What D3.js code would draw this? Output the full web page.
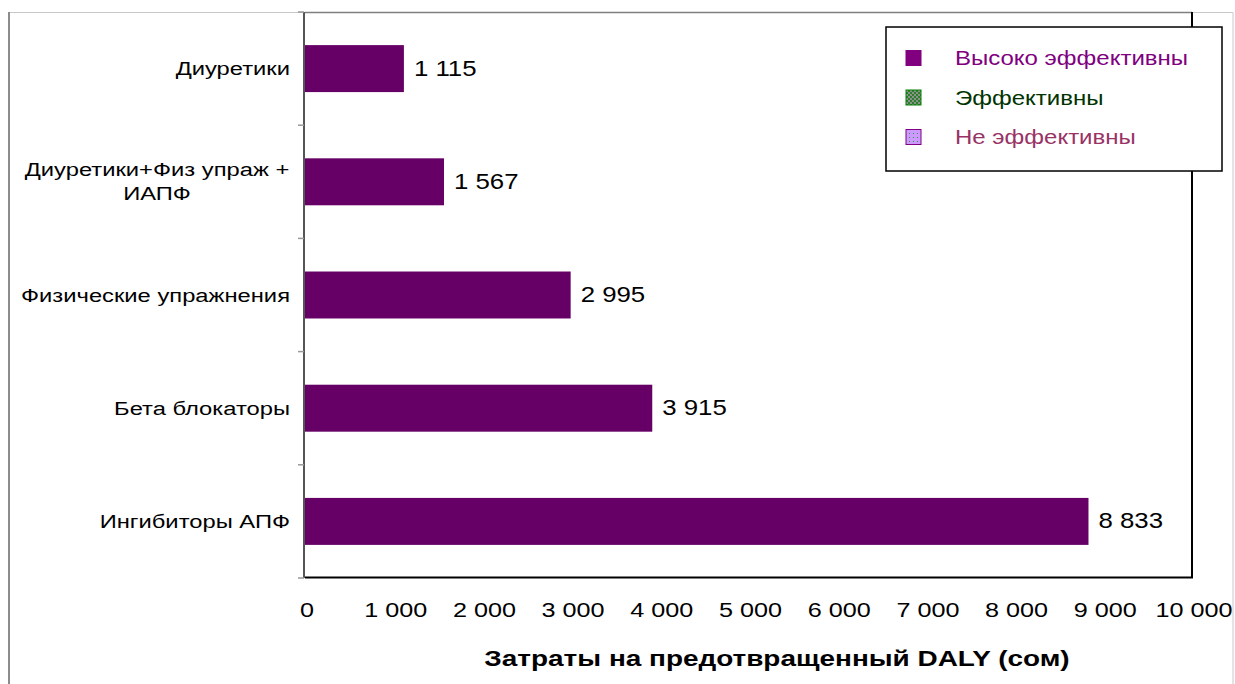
<!DOCTYPE html>
<html>
<head>
<meta charset="utf-8">
<script src="https://cdn.jsdelivr.net/npm/d3@7"></script>
<style>
  html, body { margin: 0; padding: 0; background: #fff; }
  svg { display: block; font-family: "Liberation Sans", Arial, sans-serif; }
</style>
</head>
<body>
<svg id="chart" width="1235" height="684"></svg>
<script>
// Cost per averted DALY by intervention
const categories = ["Диуретики", "Диуретики+Физ упраж + ИАПФ", "Физические упражнения", "Бета блокаторы", "Ингибиторы АПФ"];
const categoryLines = [["Диуретики"], ["Диуретики+Физ упраж +", "ИАПФ"], ["Физические упражнения"], ["Бета блокаторы"], ["Ингибиторы АПФ"]];
const values = [1115, 1567, 2995, 3915, 8833];
const xTicks = [0, 1000, 2000, 3000, 4000, 5000, 6000, 7000, 8000, 9000, 10000];
const legendLabels = ["Высоко эффективны", "Эффективны", "Не эффективны"];
const axisTitle = "Затраты на предотвращенный DALY (сом)";

const svg = d3.select("#chart");
const W = 1235, H = 684;
const plot = { left: 305, right: 1192, top: 12, bottom: 578 };
const SX = 1.2; // horizontal stretch of lettering

const ru = d3.formatLocale({ decimal: ",", thousands: "\u00a0", grouping: [3], currency: ["", ""] });
const fmt = ru.format(",d");

const x = d3.scaleLinear().domain([0, 10000]).range([plot.left, plot.right]);
const y = d3.scaleBand().domain(categories).range([plot.top, plot.bottom]).paddingInner(0.585).paddingOuter(0.2925);

function label(g, px, py, txt, opts) {
  return g.append("text")
    .attr("transform", `translate(${px},${py}) scale(${opts.sx || SX},1)`)
    .attr("text-anchor", opts.anchor || "start")
    .attr("font-size", opts.size)
    .attr("font-weight", opts.weight || "normal")
    .attr("fill", opts.fill || "#000")
    .text(txt);
}

// patterns for legend swatches
const defs = svg.append("defs");
const pg = defs.append("pattern").attr("id", "checkGreen").attr("width", 4).attr("height", 4).attr("patternUnits", "userSpaceOnUse");
pg.append("rect").attr("width", 4).attr("height", 4).attr("fill", "#2e7d2e");
pg.append("rect").attr("width", 2).attr("height", 2).attr("fill", "#8a948a");
pg.append("rect").attr("x", 2).attr("y", 2).attr("width", 2).attr("height", 2).attr("fill", "#8a948a");
const pd = defs.append("pattern").attr("id", "dotLavender").attr("width", 4).attr("height", 4).attr("patternUnits", "userSpaceOnUse");
pd.append("rect").attr("width", 4).attr("height", 4).attr("fill", "#cc99ff");
pd.append("rect").attr("x", 1).attr("y", 1).attr("width", 1).attr("height", 1).attr("fill", "#339933");

// outer chart frame
svg.append("path").attr("d", `M9,${H} V12.5 H1233 V${H}`).attr("fill", "none").attr("stroke", "#c8c8c8").attr("stroke-width", 1);
svg.append("line").attr("x1", 9).attr("x2", 9).attr("y1", 12).attr("y2", H).attr("stroke", "#8c8c8c").attr("stroke-width", 2);

// plot area
svg.append("line").attr("x1", plot.left).attr("x2", plot.right).attr("y1", plot.top + 0.5).attr("y2", plot.top + 0.5).attr("stroke", "#808080").attr("stroke-width", 1.5);
svg.append("line").attr("x1", plot.right).attr("x2", plot.right).attr("y1", plot.top).attr("y2", plot.bottom).attr("stroke", "#000").attr("stroke-width", 2);
svg.append("line").attr("x1", plot.left).attr("x2", plot.right + 1).attr("y1", plot.bottom - 0.5).attr("y2", plot.bottom - 0.5).attr("stroke", "#000").attr("stroke-width", 2);

// category axis with ticks between bands
const yAxis = svg.append("g");
yAxis.append("line").attr("x1", plot.left - 1).attr("x2", plot.left - 1).attr("y1", plot.top).attr("y2", plot.bottom).attr("stroke", "#555").attr("stroke-width", 2);
const bounds = categories.map(c => y(c) - y.step() * y.paddingInner() / 2).concat([plot.bottom]);
bounds[0] = plot.top;
yAxis.selectAll("line.tick").data(bounds).join("line").attr("class", "tick")
  .attr("x1", plot.left - 7).attr("x2", plot.left - 1).attr("y1", d => d).attr("y2", d => d)
  .attr("stroke", "#999").attr("stroke-width", 1.5);

categoryLines.forEach((lines, i) => {
  const cy = y(categories[i]) + y.bandwidth() / 2;
  if (lines.length === 1) {
    label(yAxis, 290, cy + 6.5, lines[0], { size: 18, sx: 1.32, anchor: "end" });
  } else {
    lines.forEach((ln, j) => label(yAxis, 157, cy - 6 + j * 24, ln, { size: 18, sx: 1.32, anchor: "middle" }));
  }
});

// bars
svg.append("g").selectAll("rect").data(values).join("rect")
  .attr("x", x(0))
  .attr("y", (d, i) => y(categories[i]))
  .attr("width", d => x(d) - x(0))
  .attr("height", y.bandwidth())
  .attr("fill", "#660066");

// value labels
const vl = svg.append("g");
values.forEach((v, i) => label(vl, x(v) + 10, y(categories[i]) + y.bandwidth() / 2 + 7, fmt(v), { size: 21.5 }));

// value axis labels
const xl = svg.append("g");
xTicks.forEach(t => label(xl, x(t) + 2, 617, fmt(t), { size: 21 }).attr("text-anchor", "middle"));

// axis title
label(svg, 777, 666, axisTitle, { size: 22, sx: 1.27, weight: "bold", anchor: "middle" });

// legend
const lg = svg.append("g");
lg.append("rect").attr("x", 886).attr("y", 27).attr("width", 336).attr("height", 144).attr("fill", "#fff").attr("stroke", "#000").attr("stroke-width", 1.5);
const swFill = ["#800080", "url(#checkGreen)", "url(#dotLavender)"];
const swStroke = ["#800080", "#008000", "#800080"];
const txtFill = ["#800080", "#003300", "#993366"];
legendLabels.forEach((t, i) => {
  const cy = 58 + i * 39.5;
  lg.append("rect").attr("x", 906).attr("y", cy - 7.5).attr("width", 15).attr("height", 15)
    .attr("fill", swFill[i]).attr("stroke", swStroke[i]).attr("stroke-width", 1);
  label(lg, 955, cy + 7, t, { size: 20, fill: txtFill[i] });
});
</script>
</body>
</html>
